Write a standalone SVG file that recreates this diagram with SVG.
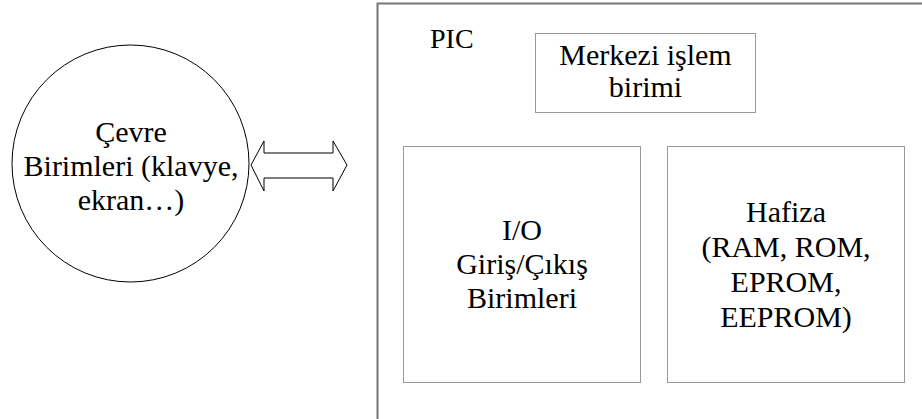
<svg xmlns="http://www.w3.org/2000/svg" width="922" height="419" viewBox="0 0 922 419" font-family="Liberation Serif, Times New Roman, DejaVu Serif, serif" font-size="30">
<style>
.c{text-anchor:middle}
.box{fill:#fff;stroke:#333;stroke-width:1;stroke-dasharray:1 1}
</style>
<rect width="922" height="419" fill="#fff"/>
<g id="pic">
<rect x="377.5" y="3.5" width="600" height="500" fill="#fff" stroke="#777" stroke-width="2"/>
<text x="430" y="48" font-family="Liberation Serif, serif" font-size="28">PIC</text>
</g>
<g id="cevre" font-family="Liberation Serif, serif">
<circle cx="130.5" cy="163.5" r="118.5" fill="#fff" stroke="#000" stroke-width="1"/>
<text class="c" x="131" y="142">Çevre</text>
<text class="c" x="131" y="176">Birimleri (klavye,</text>
<text class="c" x="131" y="210">ekran…)</text>
</g>
<g id="cpu" font-family="Liberation Serif, serif">
<rect class="box" x="535.5" y="33.5" width="220" height="79"/>
<text class="c" x="645.5" y="65">Merkezi işlem</text>
<text class="c" x="645.5" y="97">birimi</text>
</g>
<g id="io" font-family="Liberation Serif, serif">
<rect class="box" x="403.5" y="146.5" width="237" height="236"/>
<text class="c" x="522" y="240">I/O</text>
<text class="c" x="522" y="274">Giriş/Çıkış</text>
<text class="c" x="522" y="308">Birimleri</text>
</g>
<g id="memory" font-family="Liberation Serif, serif">
<rect class="box" x="667.5" y="146.5" width="237" height="236"/>
<text class="c" x="786" y="222">Hafiza</text>
<text class="c" x="786" y="257">(RAM, ROM,</text>
<text class="c" x="786" y="292">EPROM,</text>
<text class="c" x="786" y="327">EEPROM)</text>
</g>
<g id="connectors">
<polygon points="251,165 264,141 264,153 333,153 333,141 347,165 333,191 333,178 264,178 264,191" fill="#fff" stroke="#000" stroke-width="1"/>
</g>
</svg>
